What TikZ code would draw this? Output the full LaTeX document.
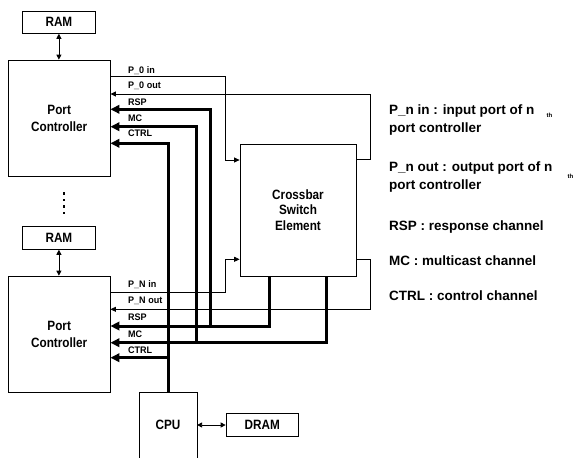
\documentclass[tikz,border=0pt]{standalone}
\usepackage{fontspec}
\setmainfont{Liberation Sans}
\newfontfamily\boxfont[FakeStretch=0.87]{Liberation Sans}
\newfontfamily\chanfont[FakeStretch=0.95]{Liberation Sans}
\usetikzlibrary{arrows.meta}
\begin{document}
\begin{tikzpicture}[x=1pt,y=-1pt,
  box/.style={draw, line width=0.8pt, inner sep=0pt, align=center,
    font=\boxfont\bfseries\fontsize{13.5}{17}\selectfont},
  chan/.style={inner sep=0pt, anchor=base west,
    font=\chanfont\bfseries\fontsize{9.5}{11}\selectfont},
  note/.style={inner sep=0pt, anchor=base west,
    font=\bfseries\fontsize{13.5}{16}\selectfont},
  thsup/.style={inner sep=0pt, anchor=base west,
    font=\bfseries\fontsize{6}{7}\selectfont},
  tl/.style={line width=0.8pt},
  tk/.style={line width=3pt},
  tarr/.style={-{Triangle[length=5.5pt,width=5pt]}},
  karr/.style={-{Triangle[length=9pt,width=8.5pt]}},
  dbl/.style={{Triangle[length=5pt,width=5pt]}-{Triangle[length=5pt,width=5pt]}}
]
\useasboundingbox (0,0) rectangle (576,458);

% boxes
\node[box, minimum width=72.3pt, minimum height=22.3pt] (ram1) at (58.9,22.2) {RAM};
\node[box, minimum width=101.7pt, minimum height=116pt] (pc1) at (59.2,118) {Port\\Controller};
\node[box, minimum width=72.3pt, minimum height=23.3pt] (ram2) at (58.9,237.7) {RAM};
\node[box, minimum width=101.7pt, minimum height=116.3pt] (pc2) at (59.2,334.2) {Port\\Controller};
\node[box, minimum width=116pt, minimum height=132pt, font=\boxfont\bfseries\fontsize{13.5}{15.7}\selectfont] (xbar) at (298,210) {Crossbar\\Switch\\Element};
\node[box, draw=none, minimum width=57.4pt, minimum height=65.7pt] (cpu) at (168,425.15) {CPU};
\draw[tl] (cpu.south west) -- (cpu.north west) -- (cpu.north east) -- (cpu.south east);
\node[box, minimum width=72.3pt, minimum height=23.4pt] (dram) at (262.2,425) {DRAM};

% vertical ellipsis
\foreach \yy in {193.5,200,206.5,213}
  \fill (62.6,\yy-1.4) rectangle (65.4,\yy+1.4);

% RAM <-> PC, CPU <-> DRAM
\draw[tl, dbl] (ram1.south) -- (ram1.south |- pc1.north);
\draw[tl, dbl] (ram2.south) -- (ram2.south |- pc2.north);
\draw[tl, dbl] (cpu.east |- dram.west) -- (dram.west);

% thin port connectors
\draw[tl, tarr] (pc1.east |- 0,76.7) -| (225.7,160) -- (xbar.west |- 0,160);
\draw[tl, tarr] (xbar.east |- 0,159.3) -- (370,159.3) |- (pc1.east |- 0,94);
\draw[tl, tarr] (pc2.east |- 0,292.3) -| (225.7,259.3) -- (xbar.west |- 0,259.3);
\draw[tl, tarr] (xbar.east |- 0,259.3) -- (370,259.3) |- (pc2.east |- 0,309.3);

% thick channels
\draw[tk, karr] (xbar.south -| 269.3,0) |- (pc2.east |- 0,326);
\draw[tk, karr] (210.7,326) |- (pc1.east |- 0,109.3);
\draw[tk, karr] (xbar.south -| 326.7,0) |- (pc2.east |- 0,342.7);
\draw[tk, karr] (196.7,342.7) |- (pc1.east |- 0,126.7);
\draw[tk, karr] (cpu.north) |- (pc1.east |- 0,143.3);
\draw[tk, karr] (cpu.north |- 0,357.7) -- (pc2.east |- 0,357.7);

% channel labels
\node[chan] (l1) at (128,73) {P\_0 in};
\node[chan] (l2) at (128,88.5) {P\_0 out};
\node[chan] (l3) at (128,105) {RSP};
\node[chan] (l4) at (128,121) {MC};
\node[chan] (l5) at (128,136.7) {CTRL};
\node[chan] (l6) at (128,287.5) {P\_N in};
\node[chan] (l7) at (128,303.5) {P\_N out};
\node[chan] (l8) at (128,320.5) {RSP};
\node[chan] (l9) at (128,337.5) {MC};
\node[chan] (l10) at (128,353.5) {CTRL};

% legend
\node[note] (n1) at (389,114.5) {P\_n in : input port of n};
\node[thsup] (t1) at (546.5,117.5) {th};
\node[note] (n2) at (389,132) {port controller};
\node[note] (n3) at (389,171.7) {P\_n out : output port of n};
\node[thsup] (t2) at (567.5,178) {th};
\node[note] (n4) at (389,189.5) {port controller};
\node[note] (n5) at (389,230.5) {RSP : response channel};
\node[note] (n6) at (389,265.5) {MC : multicast channel};
\node[note] (n7) at (389,300.5) {CTRL : control channel};
\end{tikzpicture}
\end{document}
